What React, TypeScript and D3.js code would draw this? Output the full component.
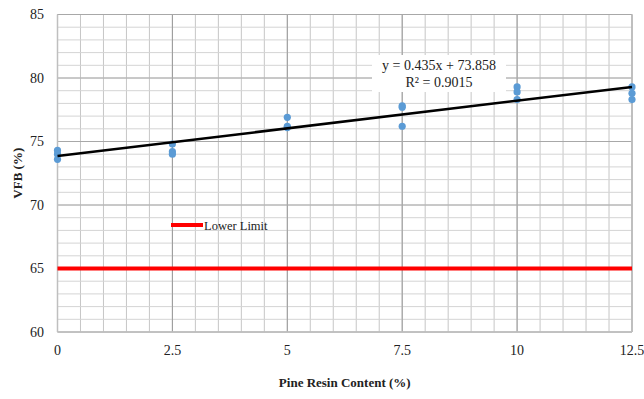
import React from 'react';
import * as d3 from 'd3';

// pine resin content (%) and measured VFB (%) – three specimens per level
const resinContent = [0, 2.5, 5, 7.5, 10, 12.5];
const vfbRep1 = [74.3, 74.8, 76.9, 77.8, 79.3, 79.3];
const vfbRep2 = [74.0, 74.2, 76.2, 77.7, 78.9, 78.8];
const vfbRep3 = [73.6, 74.0, 76.1, 76.2, 78.3, 78.3];

const xTicks = [0, 2.5, 5, 7.5, 10, 12.5];
const yTicks = [60, 65, 70, 75, 80, 85];

const slope = 0.435;
const intercept = 73.858;
const rSquared = 0.9015;
const lowerLimit = 65;

const W = 644;
const H = 399;
const margin = { left: 57.5, right: 12, top: 14.5, bottom: 67 };

const App: React.FC = () => {
  const x = d3.scaleLinear().domain([0, 12.5]).range([margin.left, W - margin.right]);
  const y = d3.scaleLinear().domain([60, 85]).range([H - margin.bottom, margin.top]);

  const minorX = d3.range(0, 12.5001, 0.5);
  const minorY = d3.range(60, 85.001, 1);

  const points = resinContent.flatMap((c, i) => [
    { c, v: vfbRep1[i] },
    { c, v: vfbRep2[i] },
    { c, v: vfbRep3[i] },
  ]);

  const trend = d3.line<number>()
    .x(d => x(d))
    .y(d => y(slope * d + intercept));

  const serif = "'Liberation Serif', 'Times New Roman', serif";

  return (
    <svg width={W} height={H} style={{ position: 'absolute', left: 0, top: 0 }} fontFamily={serif}>
      <rect width={W} height={H} fill="#fff" />

      {/* minor grid */}
      {minorX.map(v => (
        <line key={'mx' + v} x1={x(v)} x2={x(v)} y1={y(60)} y2={y(85)} stroke="#c6c6c6" strokeWidth={1} />
      ))}
      {minorY.map(v => (
        <line key={'my' + v} x1={x(0)} x2={x(12.5)} y1={y(v)} y2={y(v)} stroke="#d4d4d4" strokeWidth={1} />
      ))}
      {/* major grid */}
      {xTicks.map(v => (
        <line key={'Mx' + v} x1={x(v)} x2={x(v)} y1={y(60)} y2={y(85)} stroke="#9a9a9a" strokeWidth={1} />
      ))}
      {yTicks.map(v => (
        <line key={'My' + v} x1={x(0)} x2={x(12.5)} y1={y(v)} y2={y(v)} stroke="#a8a8a8" strokeWidth={1} />
      ))}
      <line x1={x(0)} x2={x(12.5)} y1={y(60)} y2={y(60)} stroke="#bfbfbf" strokeWidth={1.5} />
      <line x1={x(0)} x2={x(0)} y1={y(60)} y2={y(85)} stroke="#bfbfbf" strokeWidth={1.5} />
      <line x1={x(12.5)} x2={x(12.5)} y1={y(60)} y2={y(85)} stroke="#bfbfbf" strokeWidth={1.5} />

      {/* lower limit */}
      <line x1={x(0)} x2={x(12.5)} y1={y(lowerLimit)} y2={y(lowerLimit)} stroke="#ff0000" strokeWidth={4} />

      {/* data */}
      {points.map((p, i) => (
        <circle key={i} cx={x(p.c)} cy={y(p.v)} r={3.6} fill="#5b9bd5" />
      ))}

      {/* trendline */}
      <path d={trend([0, 12.5]) ?? ''} fill="none" stroke="#000" strokeWidth={2.5} />

      {/* equation label */}
      <rect x={372} y={55} width={134} height={37} fill="#fff" />
      <text x={439} y={70} textAnchor="middle" fontSize={14} fill="#222">
        {`y = ${slope}x + ${intercept}`}
      </text>
      <text x={439} y={87} textAnchor="middle" fontSize={14} fill="#222">
        {`R² = ${rSquared}`}
      </text>

      {/* legend */}
      <line x1={171} x2={203} y1={225} y2={225} stroke="#ff0000" strokeWidth={4} />
      <text x={204} y={229.5} fontSize={12.5} fill="#222">Lower Limit</text>

      {/* y axis labels */}
      {yTicks.map(v => (
        <text key={'yl' + v} x={44} y={y(v) + 4.5} textAnchor="end" fontSize={14} fill="#222">{v}</text>
      ))}
      {/* x axis labels */}
      {xTicks.map(v => (
        <text key={'xl' + v} x={x(v)} y={355} textAnchor="middle" fontSize={14} fill="#222">{v}</text>
      ))}

      <text transform={`translate(22, ${(y(60) + y(85)) / 2}) rotate(-90)`} textAnchor="middle"
        fontSize={13} fontWeight="bold" fill="#222">VFB (%)</text>
      <text x={(x(0) + x(12.5)) / 2} y={387} textAnchor="middle" fontSize={13} fontWeight="bold" fill="#222">
        Pine Resin Content (%)
      </text>
    </svg>
  );
};

export default App;
